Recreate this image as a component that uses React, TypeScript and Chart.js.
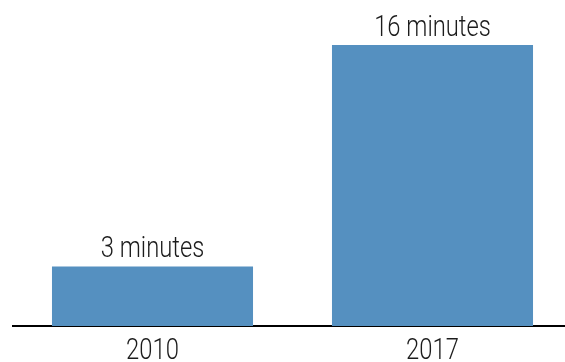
import React, { useEffect, useRef } from "react";
import { Chart, registerables } from "chart.js";

Chart.register(...registerables);

const categories = ["2010", "2017"];
const values = [3, 16];
const valueLabels = ["3 minutes", "16 minutes"];

const FONT = 'Roboto, "Noto Sans", sans-serif';
const TEXT_COLOR = "#1c1c1c";
const SQUEEZE = 0.82;

function drawCondensed(ctx: CanvasRenderingContext2D, text: string, x: number, y: number) {
  ctx.save();
  ctx.translate(x, y);
  ctx.scale(SQUEEZE, 1);
  ctx.fillText(text, 0, 0);
  ctx.restore();
}

const labelPlugin = {
  id: "barLabels",
  afterDatasetsDraw(chart: any) {
    const ctx = chart.ctx;
    const meta = chart.getDatasetMeta(0);
    const xScale = chart.scales.x;
    ctx.save();
    ctx.font = `300 29px ${FONT}`;
    ctx.fillStyle = TEXT_COLOR;
    ctx.textAlign = "center";
    ctx.textBaseline = "alphabetic";
    meta.data.forEach((bar: any, i: number) => {
      drawCondensed(ctx, valueLabels[i], bar.x, bar.y - 9.5);
    });
    categories.forEach((c, i) => {
      drawCondensed(ctx, c, xScale.getPixelForValue(i), xScale.top + 33);
    });
    ctx.restore();
  },
};

export default function App() {
  const ref = useRef<HTMLCanvasElement>(null);
  useEffect(() => {
    if (!ref.current) return;
    const chart = new Chart(ref.current, {
      type: "bar",
      data: {
        labels: categories,
        datasets: [
          {
            data: values,
            backgroundColor: "#5590c0",
            borderWidth: 0,
            base: -0.5,
            categoryPercentage: 1,
            barPercentage: 0.718,
          } as any,
        ],
      },
      options: {
        animation: false,
        responsive: false,
        maintainAspectRatio: false,
        layout: { padding: { left: 12.5, right: 2.5, top: 19.5, bottom: 0 } },
        plugins: { legend: { display: false }, tooltip: { enabled: false } },
        scales: {
          x: {
            grid: { display: false, drawTicks: false },
            border: { display: true, color: "#000", width: 2 },
            ticks: { display: false },
            afterFit: (scale: any) => {
              scale.height = 36;
            },
          },
          y: { display: false, min: -0.5, max: 17.5 },
        },
      },
      plugins: [labelPlugin],
    });
    return () => chart.destroy();
  }, []);
  return (
    <div style={{ position: "fixed", left: 0, top: 0, width: 565, height: 362, overflow: "hidden", background: "#fff" }}>
      <canvas ref={ref} width={575} height={362} style={{ display: "block", width: 575, height: 362 }} />
    </div>
  );
}
